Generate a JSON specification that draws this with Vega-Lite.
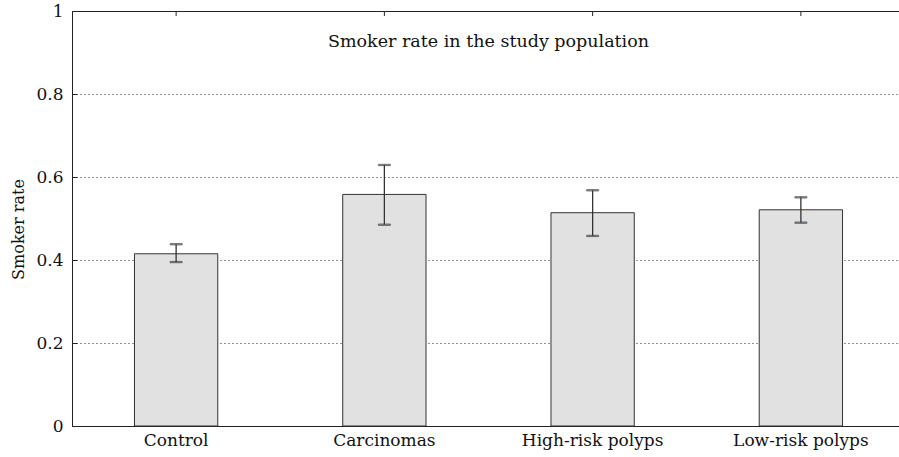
{
  "$schema": "https://vega.github.io/schema/vega-lite/v6.json",
  "width": 833,
  "height": 415,
  "autosize": {"type": "none"},
  "padding": {"left": 72, "top": 11, "right": 0, "bottom": 31},
  "background": "white",
  "config": {
    "font": "DejaVu Serif",
    "view": {"stroke": "#222", "strokeWidth": 1}
  },
  "title": {
    "text": "Smoker rate in the study population",
    "offset": -62,
    "baseline": "alphabetic",
    "fontSize": 17.5,
    "fontWeight": "normal",
    "color": "#111",
    "anchor": "middle"
  },
  "data": {
    "values": [
      {"group": "Control", "rate": 0.415, "lo": 0.395, "hi": 0.438},
      {"group": "Carcinomas", "rate": 0.558, "lo": 0.485, "hi": 0.629},
      {"group": "High-risk polyps", "rate": 0.514, "lo": 0.458, "hi": 0.568},
      {"group": "Low-risk polyps", "rate": 0.521, "lo": 0.49, "hi": 0.551}
    ]
  },
  "encoding": {
    "x": {
      "field": "group",
      "type": "nominal",
      "sort": null,
      "scale": {"paddingInner": 0.6, "paddingOuter": 0.3},
      "axis": {
        "title": null,
        "labelAngle": 0,
        "labelFontSize": 17,
        "labelColor": "#111",
        "labelPadding": 6,
        "ticks": false,
        "domain": false
      }
    }
  },
  "layer": [
    {
      "mark": {"type": "bar", "fill": "#e1e1e1", "stroke": "#333", "strokeWidth": 1},
      "encoding": {
        "y": {
          "field": "rate",
          "type": "quantitative",
          "scale": {"domain": [0, 1], "nice": false},
          "axis": {
            "title": "Smoker rate",
            "titleFontSize": 16,
            "titleFontWeight": "normal",
            "titleColor": "#111",
            "titleX": -54,
            "titleY": 218,
            "titleAngle": -90,
            "titleAlign": "center",
            "titleBaseline": "middle",
            "values": [0, 0.2, 0.4, 0.6, 0.8, 1],
            "format": "~g",
            "labelFontSize": 17,
            "labelColor": "#111",
            "labelPadding": 14,
            "tickSize": -5,
            "tickColor": "#222",
            "domain": false,
            "grid": true,
            "gridColor": "#222",
            "gridDash": [1, 3],
            "gridWidth": 1
          }
        }
      }
    },
    {
      "mark": {"type": "rule", "stroke": "#333", "strokeWidth": 1.3},
      "encoding": {
        "y": {"field": "lo", "type": "quantitative"},
        "y2": {"field": "hi"}
      }
    },
    {
      "mark": {"type": "tick", "stroke": "#333", "size": 12, "thickness": 1.3},
      "encoding": {
        "y": {"field": "lo", "type": "quantitative"}
      }
    },
    {
      "mark": {"type": "tick", "stroke": "#333", "size": 12, "thickness": 1.3},
      "encoding": {
        "y": {"field": "hi", "type": "quantitative"}
      }
    },
    {
      "mark": {"type": "rule", "stroke": "#222", "strokeWidth": 1},
      "encoding": {
        "y": {"datum": 1, "type": "quantitative"},
        "y2": {"datum": 0.988}
      }
    }
  ]
}
